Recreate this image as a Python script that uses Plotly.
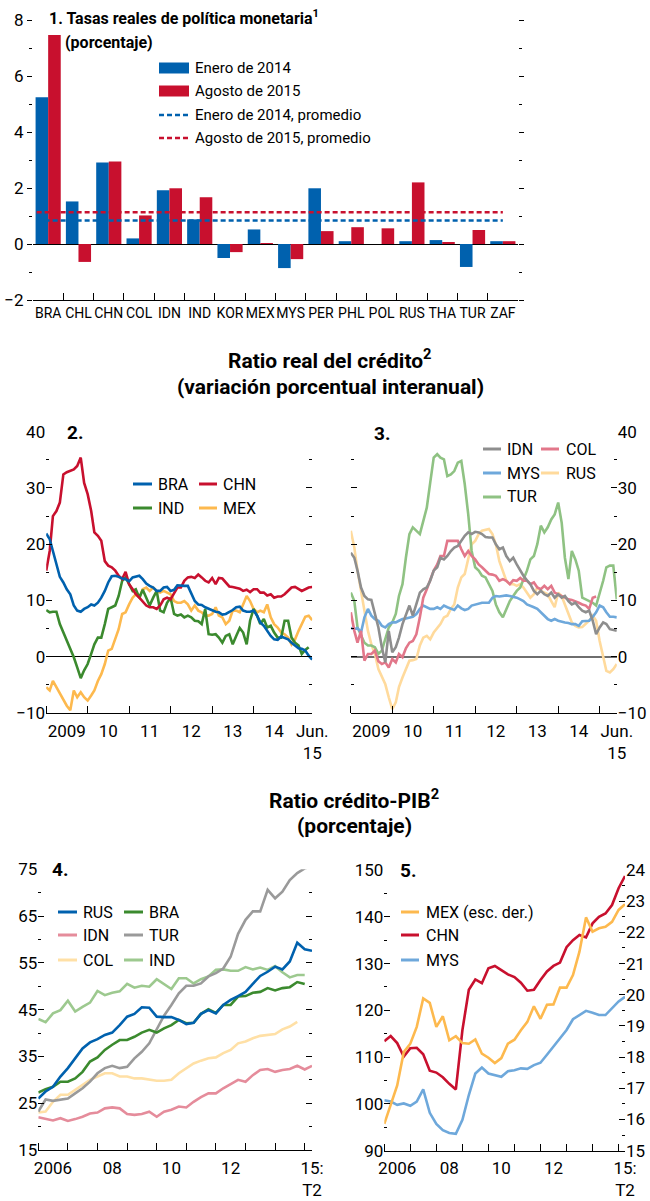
import numpy as np
import pandas as pd
import plotly.graph_objects as go

W, H = 650, 1201
FONT = "Roboto, Liberation Sans, sans-serif"
FS = 17       # axis numbers
FS_CAT = 14   # country labels
FS_LEG = 16   # legend text (panels 2-5)
FS_LEG1 = 15  # legend text (panel 1)
FS_PANEL = 16 # bold panel titles
FS_HEAD = 21  # bold main headers

BLUE = "#0061AE"; RED = "#C8102E"; GREEN = "#3B8A2E"; ORANGE = "#FDB94E"
GRAY = "#8E8E8E"; PINK = "#E2778A"; LBLUE = "#6EA8DB"; PYELLOW = "#FFDA9C"; LGREEN = "#8FC283"
GRAY4 = "#9A9A9A"; PINK4 = "#E58C9B"; PYELLOW4 = "#FFE0A6"; LGREEN4 = "#9DC98F"

# ---------------- Panel 1 data ----------------
countries = ["BRA", "CHL", "CHN", "COL", "IDN", "IND", "KOR", "MEX", "MYS", "PER",
             "PHL", "POL", "RUS", "THA", "TUR", "ZAF"]
rate_jan2014 = [5.24, 1.52, 2.91, 0.20, 1.92, 0.88, -0.50, 0.52, -0.86, 1.99,
                0.10, 0.00, 0.10, 0.14, -0.82, 0.10]
rate_aug2015 = [7.46, -0.64, 2.95, 1.02, 1.99, 1.67, -0.29, 0.02, -0.54, 0.46,
                0.60, 0.56, 2.20, 0.06, 0.50, 0.10]

# ---------------- Panels 2-3 data (monthly, Jan 2009 - Jun 2015) ----------------
months = pd.date_range("2009-01-01", periods=78, freq="MS")
p2_bra = [21.9, 20.9, 18.8, 16.4, 14.2, 13.2, 12.0, 11.1, 9.1, 8.2, 8.0, 8.5,
          8.8, 9.3, 9.1, 9.6, 10.5, 11.7, 13.2, 14.3, 14.4, 14.2, 13.9, 13.8,
          13.4, 14.1, 14.2, 14.4, 13.8, 13.0, 12.6, 12.3, 11.7, 11.7, 12.3, 12.4,
          11.7, 11.9, 12.7, 12.6, 12.6, 12.6, 11.1, 9.9, 9.3, 9.2, 8.8, 8.5,
          8.2, 8.0, 7.9, 7.5, 7.6, 7.9, 8.3, 8.8, 8.9, 8.2, 8.0, 8.0,
          8.2, 7.3, 6.1, 5.5, 4.6, 3.7, 3.1, 3.0, 3.6, 3.4, 3.1, 2.5,
          2.0, 1.5, 1.4, 1.1, 0.2, -0.5]
p2_chn = [15.3, 18.8, 25.0, 25.9, 27.4, 32.4, 32.8, 33.0, 33.3, 33.9, 35.4, 30.9,
          28.9, 25.9, 22.1, 21.5, 20.6, 17.0, 16.2, 15.9, 15.3, 14.4, 13.8, 15.1,
          12.9, 12.0, 11.1, 10.5, 9.9, 9.1, 8.8, 8.8, 8.5, 9.1, 10.2, 10.5,
          10.2, 11.4, 12.3, 12.3, 13.5, 14.1, 14.2, 14.0, 14.6, 14.1, 13.5, 13.2,
          14.0, 12.9, 14.0, 13.9, 13.2, 12.5, 12.4, 12.3, 12.1, 11.7, 11.9, 11.5,
          12.0, 12.0, 11.4, 11.4, 10.9, 11.1, 10.5, 10.7, 10.7, 11.1, 11.7, 12.3,
          12.4, 12.0, 11.7, 12.0, 12.3, 12.4]
p2_ind = [8.3, 7.9, 8.0, 8.0, 5.8, 4.3, 2.8, 1.4, -0.1, -1.9, -3.8, -2.4,
          -1.3, 0.5, 2.2, 3.4, 3.4, 5.8, 8.5, 8.8, 9.1, 10.8, 13.5, 14.1,
          12.9, 11.7, 12.0, 10.5, 11.9, 10.5, 9.1, 10.5, 11.7, 8.2, 7.9, 9.6,
          10.5, 7.6, 7.3, 7.5, 7.0, 7.3, 7.0, 6.4, 6.3, 5.8, 8.5, 4.0,
          3.9, 4.0, 3.4, 2.5, 3.7, 4.0, 2.2, 3.7, 5.1, 4.3, 2.2, 6.4,
          8.5, 7.3, 5.8, 6.7, 5.2, 5.5, 4.3, 3.4, 3.4, 6.4, 6.4, 3.4,
          2.5, 2.0, 0.5, 1.2, 1.7, None]
p2_mex = [-5.4, -6.0, -4.3, -5.4, -6.6, -7.8, -8.7, -9.5, -6.0, -7.2, -6.3, -7.2,
          -7.8, -6.9, -6.0, -4.3, -3.1, -1.3, 1.1, 1.4, 3.4, 4.9, 7.6, 7.9,
          9.3, 10.5, 11.1, 10.5, 12.0, 12.3, 11.7, 12.3, 11.7, 11.4, 11.7, 11.4,
          11.1, 9.9, 9.6, 9.6, 9.9, 9.3, 8.2, 9.1, 8.2, 7.9, 7.3, 7.3,
          7.6, 8.8, 7.3, 7.0, 5.8, 6.4, 8.2, 8.2, 7.9, 9.3, 10.8, 9.9,
          8.5, 7.9, 8.2, 7.9, 9.3, 7.0, 5.8, 5.2, 4.3, 4.0, 3.4, 2.2,
          3.1, 4.6, 5.8, 7.1, 7.3, 6.5]

p3_idn = [18.5, 17.6, 15.3, 12.3, 10.8, 10.2, 10.1, 7.6, 5.2, 1.7, -1.0, 4.6,
          0.8, 1.7, 3.4, 5.8, 7.6, 9.1, 7.3, 9.3, 11.4, 12.0, 12.3, 13.5,
          15.3, 15.9, 17.6, 17.3, 17.9, 18.8, 19.4, 19.7, 20.6, 21.5, 22.1, 21.8,
          22.2, 22.1, 21.8, 21.3, 21.2, 21.2, 20.0, 19.1, 19.4, 17.9, 17.0, 17.6,
          16.4, 15.3, 14.4, 13.6, 12.9, 11.7, 11.1, 11.7, 11.1, 10.8, 11.4, 10.5,
          11.1, 10.5, 10.8, 9.9, 9.3, 9.6, 8.8, 8.2, 7.9, 8.2, 6.4, 4.0,
          5.2, 6.1, 5.8, 4.9, 4.7, 4.6]
p3_col = [7.9, 4.6, 2.5, 4.6, -0.7, 0.5, 0.5, 1.1, -0.8, -1.3, -1.0, -1.9,
          -0.4, -1.0, 0.5, -0.1, 1.5, 2.5, 2.8, 4.0, 7.0, 10.5, 12.0, 13.8,
          15.3, 16.4, 17.9, 17.9, 20.6, 20.6, 20.6, 20.6, 19.1, 17.9, 18.8, 17.9,
          17.3, 16.4, 15.9, 15.3, 14.7, 14.6, 14.4, 13.5, 13.8, 13.5, 12.9, 13.6,
          13.5, 14.0, 13.5, 13.5, 12.9, 13.2, 12.3, 12.0, 12.6, 12.0, 12.6, 11.4,
          11.1, 10.8, 10.5, 10.2, 10.1, 9.9, 9.6, 9.3, 9.1, 8.5, 10.5, 10.7,
          None, None, None, None, None, None]
p3_mys = [5.1, 4.9, 5.1, 4.3, 7.0, 8.5, 7.3, 6.7, 6.4, 5.5, 5.2, 5.8,
          6.1, 6.1, 6.4, 6.7, 6.8, 7.0, 7.1, 7.6, 8.5, 9.1, 8.8, 8.5,
          8.5, 8.8, 8.5, 9.1, 8.8, 8.5, 8.3, 9.1, 8.6, 8.3, 8.5, 9.1,
          9.3, 9.5, 9.6, 9.6, 9.6, 10.5, 10.8, 10.7, 10.8, 10.9, 10.8, 10.7,
          10.5, 10.2, 9.9, 9.3, 9.1, 8.8, 8.5, 7.9, 7.3, 6.7, 6.4, 6.7,
          6.4, 6.2, 6.1, 6.0, 5.8, 5.8, 5.5, 6.3, 6.4, 6.4, 7.1, 7.9,
          9.1, 8.8, 7.9, 7.1, 7.1, 7.0]
p3_rus = [22.4, 19.4, 15.3, 11.7, 8.2, 4.6, 2.2, 0.5, -2.2, -3.7, -4.9, -7.2,
          -9.3, -8.1, -5.4, -3.7, -2.2, -0.7, -0.6, -0.4, 2.0, 3.4, 3.7, 3.1,
          4.3, 5.2, 5.8, 7.0, 7.3, 8.5, 9.3, 12.3, 14.1, 14.7, 17.6, 20.0,
          20.6, 21.8, 22.4, 22.5, 22.7, 21.8, 20.0, 17.0, 15.3, 13.5, 12.9, 12.9,
          12.6, 12.9, 12.3, 11.4, 10.5, 11.1, 12.3, 11.7, 11.4, 11.1, 9.9, 8.8,
          11.4, 10.8, 9.3, 7.6, 6.1, 5.5, 5.2, 5.3, 5.8, 6.4, 7.3, 6.4,
          2.8, -0.1, -2.5, -2.8, -2.2, -1.3]
p3_tur = [11.4, 9.9, 5.2, 3.7, 2.5, 2.0, 2.0, 1.7, 0.5, 1.1, 3.4, 5.2,
          6.1, 7.6, 10.8, 12.9, 17.6, 21.8, 23.0, 22.4, 21.8, 24.1, 26.5, 30.9,
          35.4, 36.0, 35.4, 35.1, 32.1, 32.4, 33.0, 34.5, 34.8, 30.7, 25.3, 18.8,
          15.9, 15.3, 14.4, 14.1, 12.9, 11.7, 9.3, 7.9, 7.0, 8.5, 9.9, 10.8,
          11.7, 12.3, 13.8, 15.3, 17.3, 17.9, 20.0, 23.3, 22.1, 23.0, 24.4, 25.3,
          27.4, 23.8, 17.6, 13.8, 18.8, 17.3, 15.3, 10.5, 10.2, 9.9, 9.6, 9.1,
          11.1, 13.5, 15.9, 16.2, 16.2, 10.2]

# ---------------- Panels 4-5 data (quarterly, 2006 Q1 - 2015 Q2) ----------------
quarters = pd.date_range("2006-01-01", periods=38, freq="QS")
p4_rus = [26.0, 27.5, 28.5, 30.7, 32.5, 34.6, 36.7, 38.0, 38.7, 39.6,
          40.1, 41.7, 43.5, 44.1, 45.5, 45.4, 43.5, 43.4, 43.4, 42.8,
          41.9, 42.2, 44.1, 44.9, 44.2, 46.0, 47.1, 47.9, 48.8, 50.5,
          52.2, 53.1, 54.2, 53.6, 55.3, 59.3, 57.9, 57.6]
p4_bra = [27.3, 28.0, 28.5, 29.6, 29.6, 30.3, 31.7, 33.9, 34.8, 36.4,
          37.5, 38.5, 38.5, 39.2, 40.1, 40.7, 40.1, 41.0, 41.7, 42.8,
          42.1, 42.2, 44.1, 45.1, 44.3, 46.0, 46.0, 47.8, 47.9, 48.6,
          48.8, 49.6, 49.1, 49.6, 49.8, 50.9, 50.5, None]
p4_idn = [22.0, 21.6, 21.3, 21.8, 21.2, 21.6, 22.1, 22.8, 23.0, 23.9,
          24.1, 23.9, 22.7, 22.5, 22.7, 23.2, 22.1, 23.2, 23.6, 24.3,
          24.1, 25.3, 26.3, 27.1, 27.1, 28.2, 29.1, 30.0, 29.6, 31.0,
          32.1, 32.3, 31.7, 32.1, 32.3, 33.0, 32.2, 33.0]
p4_tur = [23.2, 25.8, 25.5, 25.8, 26.0, 27.1, 28.2, 29.6, 31.4, 32.5,
          33.0, 32.5, 32.8, 34.6, 36.0, 37.8, 40.7, 43.7, 46.0, 48.5,
          50.1, 50.1, 50.6, 52.1, 52.8, 53.8, 56.3, 61.2, 64.2, 66.0,
          66.0, 70.6, 68.8, 70.2, 72.7, 74.2, 75.2, 75.6]
p4_col = [23.0, 23.2, 25.3, 26.8, 26.8, 27.8, 28.9, 30.0, 30.7, 31.4,
          31.4, 30.7, 30.7, 30.3, 30.3, 30.0, 29.8, 29.8, 30.0, 31.4,
          32.5, 33.5, 34.1, 34.6, 34.8, 35.7, 36.4, 37.8, 38.2, 38.9,
          39.4, 39.6, 39.8, 40.8, 41.4, 42.4, None, None]
p4_ind = [43.0, 42.3, 44.2, 44.9, 46.9, 44.6, 45.6, 46.5, 49.0, 48.1,
          48.6, 48.9, 50.5, 49.7, 50.1, 49.9, 51.5, 50.4, 49.4, 51.7,
          51.7, 50.6, 51.5, 52.1, 53.5, 53.6, 53.3, 53.3, 54.1, 53.6,
          54.0, 53.5, 54.3, 53.0, 51.9, 52.4, 52.4, None]

p5_mex = [15.86, 16.50, 17.09, 18.16, 18.43, 18.97, 19.88, 19.74, 18.97, 19.31,
          18.54, 18.67, 18.45, 18.43, 18.57, 18.11, 17.98, 17.81, 17.97, 18.43,
          18.56, 18.86, 19.13, 19.63, 19.23, 19.68, 19.69, 20.23, 20.23, 20.63,
          21.38, 22.48, 22.02, 22.13, 22.18, 22.34, 22.72, 22.90]
p5_chn = [113.4, 114.5, 113.0, 110.1, 111.9, 112.0, 110.6, 107.1, 106.7, 105.7,
          104.3, 103.1, 115.8, 124.4, 126.6, 125.8, 129.0, 129.5, 128.6, 127.7,
          127.1, 125.9, 124.2, 124.4, 126.5, 128.3, 129.5, 130.2, 133.5, 135.0,
          136.1, 135.6, 138.6, 140.0, 140.7, 142.5, 146.1, 148.7]
p5_mys = [100.8, 100.5, 99.8, 100.1, 99.6, 100.5, 103.1, 98.1, 95.7, 94.4,
          93.8, 93.6, 96.6, 101.9, 106.5, 107.8, 106.5, 106.2, 105.8, 107.0,
          107.2, 107.6, 107.5, 108.3, 108.8, 110.5, 112.2, 113.9, 115.8, 118.1,
          119.0, 119.9, 119.5, 119.0, 119.0, 120.4, 121.9, 122.9]

# tick labels
p1_ticks = [-2, 0, 2, 4, 6, 8]
p23_xlabels = ["2009", "10", "11", "12", "13", "14", "Jun.<br>15"]
p45_xlabels = ["2006", "08", "10", "12", "15:<br>T2"]


# ---------------- helpers ----------------
def fx(p):
    return p / W


def fy(p):
    return 1 - p / H


def tfont(size=FS, bold=False):
    return dict(family=FONT, size=size, color="black", weight="bold" if bold else "normal")


fig = go.Figure()

# Panel 1
xi = np.arange(len(countries))
fig.add_trace(go.Bar(x=xi, y=rate_jan2014, marker=dict(color=BLUE, line=dict(width=0)),
                     xaxis="x", yaxis="y", showlegend=False))
fig.add_trace(go.Bar(x=xi, y=rate_aug2015, marker=dict(color=RED, line=dict(width=0)),
                     xaxis="x", yaxis="y", showlegend=False))
avg_jan = float(np.mean(rate_jan2014))
avg_aug = float(np.mean(rate_aug2015))
fig.add_trace(go.Scatter(x=[-0.38, 15.0], y=[avg_jan, avg_jan], mode="lines",
                         line=dict(color=BLUE, width=2.5, dash="5px,3px"),
                         xaxis="x", yaxis="y", showlegend=False))
fig.add_trace(go.Scatter(x=[-0.38, 15.0], y=[avg_aug, avg_aug], mode="lines",
                         line=dict(color=RED, width=2.5, dash="5px,3px"),
                         xaxis="x", yaxis="y", showlegend=False))


def line(x, y, color, xa, ya, width=2.6):
    fig.add_trace(go.Scatter(x=x, y=y, mode="lines", line=dict(color=color, width=width),
                             xaxis=xa, yaxis=ya, showlegend=False, connectgaps=False))


# Panel 2
line(months, p2_mex, ORANGE, "x2", "y2")
line(months, p2_ind, GREEN, "x2", "y2")
line(months, p2_chn, RED, "x2", "y2")
line(months, p2_bra, BLUE, "x2", "y2")
# Panel 3
line(months, p3_rus, PYELLOW, "x3", "y3")
line(months, p3_tur, LGREEN, "x3", "y3")
line(months, p3_mys, LBLUE, "x3", "y3")
line(months, p3_col, PINK, "x3", "y3")
line(months, p3_idn, GRAY, "x3", "y3")
# Panel 4
line(quarters, p4_ind, LGREEN4, "x4", "y4")
line(quarters, p4_col, PYELLOW4, "x4", "y4")
line(quarters, p4_idn, PINK4, "x4", "y4")
line(quarters, p4_tur, GRAY4, "x4", "y4")
line(quarters, p4_bra, GREEN, "x4", "y4")
line(quarters, p4_rus, BLUE, "x4", "y4")
# Panel 5
line(quarters, p5_mys, LBLUE, "x5", "y5")
line(quarters, p5_mex, ORANGE, "x5", "y6")
line(quarters, p5_chn, RED, "x5", "y5")


def yaxis(dom, rng, vals, minor_vals, ticks="inside", ticklen=6, side="left",
          zeroline=False, zcolor="black", zwidth=1, anchor="x", mirror="ticks"):
    return dict(domain=[fy(dom[1]), fy(dom[0])], range=rng, tickmode="array",
                tickvals=vals, ticks=ticks, ticklen=ticklen, tickwidth=1, tickcolor="black",
                mirror=mirror, showline=False, showgrid=False, side=side,
                zeroline=zeroline, zerolinecolor=zcolor, zerolinewidth=zwidth,
                minor=dict(tickmode="array", tickvals=minor_vals, ticks=ticks, ticklen=3,
                           tickwidth=1, tickcolor="black", showgrid=False),
                tickfont=tfont(), anchor=anchor, fixedrange=True, automargin=False)


def xaxis(dom, rng, vals, text, minor_vals, anchor, typ="linear", size=FS, standoff=0):
    return dict(domain=[fx(dom[0]), fx(dom[1])], range=rng, type=typ, tickmode="array",
                tickvals=vals, ticktext=text, ticks="", showline=True, linecolor="black",
                linewidth=1.2, showgrid=False, zeroline=False, tickangle=0,
                ticklabelstandoff=standoff,
                minor=dict(tickmode="array", tickvals=minor_vals, ticks="inside", ticklen=7,
                           tickwidth=1.2, tickcolor="black", showgrid=False),
                tickfont=tfont(size), anchor=anchor, fixedrange=True, automargin=False)


P1_X, P1_Y = (33, 518), (20, 300)
P2_X, P2_Y = (46.2, 312.2), (431.7, 713)
P3_X, P3_Y = (350.8, 616.8), (431.7, 713)
P4_X, P4_Y = (38.3, 312), (869.3, 1150)
P5_X, P5_Y = (384.3, 625), (870, 1150.7)

year_mid = ["2009-07-01", "2010-07-01", "2011-07-01", "2012-07-01", "2013-07-01",
            "2014-07-01", "2015-06-01"]
year_starts_23 = [f"{y}-01-01" for y in range(2009, 2016)]
year_starts_45 = [f"{y}-01-01" for y in range(2006, 2016)]
p45_mid = ["2006-07-01", "2008-07-01", "2010-07-01", "2012-07-01", "2015-04-01"]

layout = dict(
    width=W, height=H, margin=dict(l=0, r=0, t=0, b=0, autoexpand=False),
    paper_bgcolor="white", plot_bgcolor="rgba(0,0,0,0)",
    barmode="group", bargap=0.17, bargroupgap=0.0,
    font=dict(family=FONT, size=FS, color="black"),
    showlegend=False,
    xaxis=xaxis(P1_X, [-0.5, 15.5], list(xi), countries, [i + 0.5 for i in range(15)], "y",
                size=FS_CAT),
    yaxis=yaxis(P1_Y, [-2, 8], p1_ticks, [-1, 1, 3, 5, 7], ticks="outside", ticklen=5,
                zeroline=True, anchor="x"),
    xaxis2=xaxis(P2_X, ["2009-01-01", "2015-06-01"], year_mid, p23_xlabels, year_starts_23,
                 "y2", typ="date", standoff=2),
    yaxis2=yaxis(P2_Y, [-10, 40], [-10, 0, 10, 20, 30, 40], [-5, 5, 15, 25, 35],
                 zeroline=True, anchor="x2"),
    xaxis3=xaxis(P3_X, ["2009-01-01", "2015-06-01"], year_mid, p23_xlabels, year_starts_23,
                 "y3", typ="date", standoff=2),
    yaxis3=yaxis(P3_Y, [-10, 40], [-10, 0, 10, 20, 30, 40], [-5, 5, 15, 25, 35],
                 side="right", zeroline=True, zcolor="#6E6E6E", zwidth=2, anchor="x3"),
    xaxis4=xaxis(P4_X, ["2006-01-01", "2015-04-01"], p45_mid, p45_xlabels, year_starts_45,
                 "y4", typ="date", standoff=2),
    yaxis4=yaxis(P4_Y, [15, 75], [15, 25, 35, 45, 55, 65, 75], [20, 30, 40, 50, 60, 70],
                 anchor="x4"),
    xaxis5=xaxis(P5_X, ["2006-01-01", "2015-04-01"], p45_mid, p45_xlabels, year_starts_45,
                 "y5", typ="date", standoff=2),
    yaxis5=yaxis(P5_Y, [90, 150], [90, 100, 110, 120, 130, 140, 150],
                 [95, 105, 115, 125, 135, 145], anchor="x5", mirror=False),
)
y6 = yaxis(P5_Y, [15, 24], list(range(15, 25)), [v + 0.5 for v in range(15, 24)],
           side="right", anchor="x5", mirror=False)
y6.pop("domain")
y6["overlaying"] = "y5"
layout["yaxis6"] = y6
fig.update_layout(**layout)

# ---------------- annotations ----------------
ann = []


def text(x, y, s, size=FS_LEG, bold=False, xanchor="left"):
    ann.append(dict(x=fx(x), y=fy(y), xref="paper", yref="paper", text=s, showarrow=False,
                    xanchor=xanchor, yanchor="middle", font=tfont(size, bold)))


text(46.7, 17, "1. Tasas reales de política monetaria<sup>1</sup>", FS_PANEL, True)
text(62.7, 42.5, "(porcentaje)", FS_PANEL, True)
text(330, 359, "Ratio real del crédito<sup>2</sup>", FS_HEAD, True, "center")
text(330, 387, "(variación porcentual interanual)", FS_HEAD, True, "center")
text(354, 799, "Ratio crédito-PIB<sup>2</sup>", FS_HEAD, True, "center")
text(354, 826, "(porcentaje)", FS_HEAD, True, "center")
text(65, 432, "2.", FS_HEAD - 2, True)
text(372, 433, "3.", FS_HEAD - 2, True)
text(50, 869, "4.", FS_HEAD - 2, True)
text(398, 870, "5.", FS_HEAD - 2, True)

shapes = []


def swatch_rect(x0, x1, y, color, h=10):
    shapes.append(dict(type="rect", xref="paper", yref="paper", x0=fx(x0), x1=fx(x1),
                       y0=fy(y + h / 2), y1=fy(y - h / 2), fillcolor=color, line=dict(width=0)))


def swatch_line(x0, x1, y, color, dash="solid", width=3):
    shapes.append(dict(type="line", xref="paper", yref="paper", x0=fx(x0), x1=fx(x1),
                       y0=fy(y), y1=fy(y), line=dict(color=color, width=width, dash=dash)))


# Panel 1 legend
leg1 = [("rect", BLUE, "Enero de 2014"), ("rect", RED, "Agosto de 2015"),
        ("dash", BLUE, "Enero de 2014, promedio"), ("dash", RED, "Agosto de 2015, promedio")]
for i, (kind, col, lab) in enumerate(leg1):
    yy = [68, 91, 115, 138][i]
    if kind == "rect":
        swatch_rect(159, 189, yy, col, 11)
    else:
        swatch_line(159, 189, yy, col, "5px,3px", 2.5)
    text(193, yy, lab, FS_LEG1)

# Panel 2 legend
for (x0, x1, tx, yy, col, lab) in [(133, 152, 156, 484, BLUE, "BRA"), (133, 152, 156, 508, GREEN, "IND"),
                                   (199, 217, 221, 484, RED, "CHN"), (199, 217, 221, 508, ORANGE, "MEX")]:
    swatch_line(x0, x1, yy, col)
    text(tx, yy, lab)

# Panel 3 legend
for (x0, x1, tx, yy, col, lab) in [(483, 501, 505, 449, GRAY, "IDN"), (483, 501, 505, 473, LBLUE, "MYS"),
                                   (483, 501, 505, 497, LGREEN, "TUR"),
                                   (541, 559, 564, 449, PINK, "COL"), (541, 559, 564, 473, PYELLOW, "RUS")]:
    swatch_line(x0, x1, yy, col)
    text(tx, yy, lab)

# Panel 4 legend
for (x0, x1, tx, yy, col, lab) in [(58, 77, 81, 912, BLUE, "RUS"), (58, 77, 81, 935, PINK4, "IDN"),
                                   (58, 77, 81, 960, PYELLOW4, "COL"),
                                   (124, 143, 147, 912, GREEN, "BRA"), (124, 143, 147, 935, GRAY4, "TUR"),
                                   (124, 143, 147, 960, LGREEN4, "IND")]:
    swatch_line(x0, x1, yy, col)
    text(tx, yy, lab)

# Panel 5 legend
for (yy, col, lab) in [(912, ORANGE, "MEX (esc. der.)"), (935, RED, "CHN"), (960, LBLUE, "MYS")]:
    swatch_line(401, 419, yy, col)
    text(424, yy, lab)

fig.update_layout(annotations=ann, shapes=shapes)
fig.write_html("out.html", config={"displayModeBar": False},
               post_script="document.body.style.margin='0';document.body.style.overflow='hidden';")
